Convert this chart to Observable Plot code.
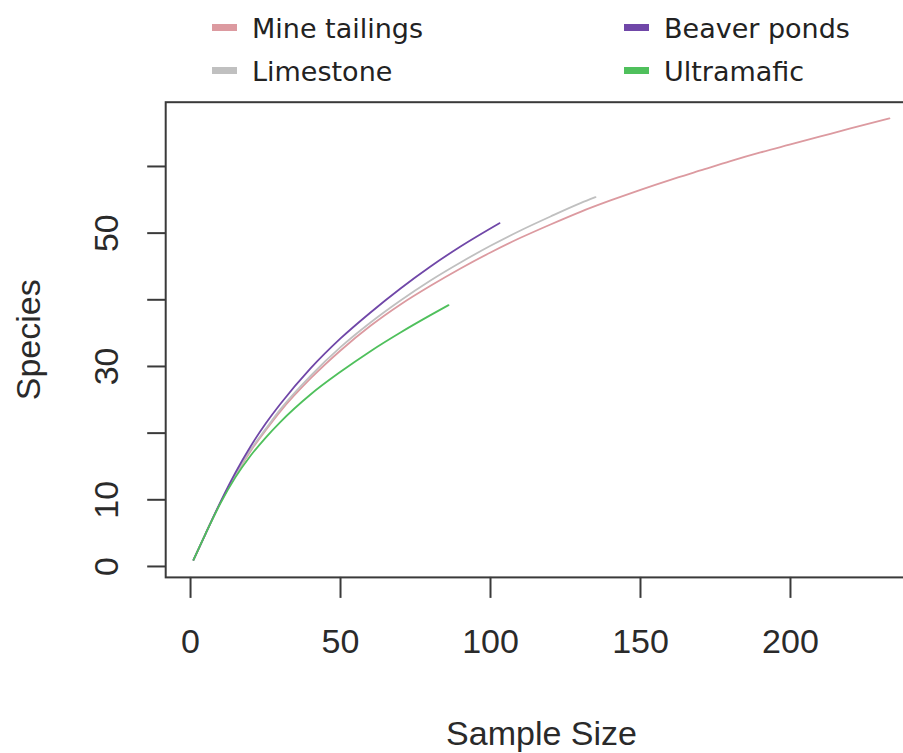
<!DOCTYPE html>
<html>
<head>
<meta charset="utf-8">
<script src="https://cdn.jsdelivr.net/npm/d3@7"></script>
<script src="https://cdn.jsdelivr.net/npm/@observablehq/plot@0.6"></script>
<style>
  body { margin: 0; background: #fff; width: 903px; height: 753px; overflow: hidden; }
  #legend { position: relative; height: 88px; font-family: "DejaVu Sans", sans-serif; font-size: 27px; color: #222; }
  #legend .sw { position: absolute; width: 25px; height: 7px; }
  #legend .lb { position: absolute; line-height: 27px; white-space: nowrap; }
  #chart svg { display: block; overflow: visible; }
</style>
</head>
<body>
<div id="legend"></div>
<div id="chart"></div>
<script>
// Rarefaction curves: expected number of species against sample size, per habitat
const sites = ["Mine tailings", "Limestone", "Beaver ponds", "Ultramafic"];
const siteColors = ["#dc9aa0", "#c0c0c0", "#7047a8", "#4fc05c"];

const mineN = [1, 5, 10, 15, 20, 25, 30, 40, 50, 60, 70, 80, 90, 100, 110, 120, 130, 140, 150, 160, 170, 180, 190, 200, 210, 220, 233];
const mineS = [1, 4.9, 9.6, 13.7, 17.3, 20.4, 23.3, 28.2, 32.4, 36.1, 39.3, 42.1, 44.7, 47.1, 49.3, 51.3, 53.2, 54.9, 56.5, 58.0, 59.4, 60.8, 62.1, 63.3, 64.5, 65.7, 67.2];

const limeN = [1, 5, 10, 15, 20, 25, 30, 40, 50, 60, 70, 80, 90, 100, 110, 120, 130, 135];
const limeS = [1, 4.9, 9.6, 13.8, 17.5, 20.6, 23.6, 28.6, 32.9, 36.6, 39.9, 42.9, 45.6, 48.1, 50.4, 52.5, 54.5, 55.4];

const beaverN = [1, 5, 10, 15, 20, 25, 30, 40, 50, 60, 70, 80, 90, 103];
const beaverS = [1, 4.9, 9.7, 14.1, 18.0, 21.4, 24.4, 29.7, 34.2, 38.1, 41.7, 45.0, 48.0, 51.5];

const ultraN = [1, 5, 10, 15, 20, 25, 30, 40, 50, 60, 70, 80, 86];
const ultraS = [1, 4.9, 9.5, 13.4, 16.6, 19.3, 21.7, 25.8, 29.2, 32.3, 35.1, 37.7, 39.2];

const xTicks = [0, 50, 100, 150, 200];
const yTicks = [0, 10, 20, 30, 40, 50, 60];
const yLabelled = [0, 10, 30, 50];

const curves = [
  {site: "Mine tailings", n: mineN, s: mineS},
  {site: "Limestone", n: limeN, s: limeS},
  {site: "Beaver ponds", n: beaverN, s: beaverS},
  {site: "Ultramafic", n: ultraN, s: ultraS}
];
const rows = curves.flatMap(c => c.n.map((n, i) => ({site: c.site, n, species: c.s[i]})));

// Legend, two columns above the plot
const legendOrder = ["Mine tailings", "Beaver ponds", "Limestone", "Ultramafic"];
const legend = document.getElementById("legend");
legendOrder.forEach((name, i) => {
  const col = i % 2, row = Math.floor(i / 2);
  const left = col === 0 ? 212 : 624;
  const baseline = row === 0 ? 38 : 81;
  const sw = document.createElement("span");
  sw.className = "sw";
  sw.style.left = left + "px";
  sw.style.top = (baseline - 14) + "px";
  sw.style.background = siteColors[sites.indexOf(name)];
  const lb = document.createElement("span");
  lb.className = "lb";
  lb.style.left = (left + 40) + "px";
  lb.style.top = (baseline - 23) + "px";
  lb.textContent = name;
  legend.append(sw, lb);
});

const chart = Plot.plot({
  width: 903,
  height: 665,
  marginLeft: 165.2,
  marginRight: -13.8,
  marginTop: 13.7,
  marginBottom: 176.1,
  style: {fontFamily: "'Liberation Sans', Arial, sans-serif", fontSize: "34px", color: "#2a2a2a", background: "#fff"},
  x: {domain: [-8.28, 242.28]},
  y: {domain: [-1.64, 69.64]},
  color: {domain: sites, range: siteColors},
  marks: [
    Plot.line(rows, {x: "n", y: "species", z: "site", stroke: "site", strokeWidth: 1.8, curve: "monotone-x"}),
    Plot.frame({stroke: "#3a3a3a", strokeWidth: 2}),
    Plot.axisX(xTicks, {
      tickSize: 21, tickPadding: 30, fontSize: 34, stroke: "#3a3a3a", strokeWidth: 2,
      label: "Sample Size", labelAnchor: "center", labelOffset: 168, labelArrow: "none"
    }),
    Plot.axisY(yTicks, {
      tickSize: 18, tickPadding: 30, fontSize: 34, stroke: "#3a3a3a", strokeWidth: 2,
      tickRotate: -90, tickFormat: d => yLabelled.includes(d) ? String(d) : "",
      label: "Species", labelAnchor: "center", labelOffset: 150, labelArrow: "none"
    })
  ]
});
document.getElementById("chart").append(chart);
</script>
</body>
</html>
